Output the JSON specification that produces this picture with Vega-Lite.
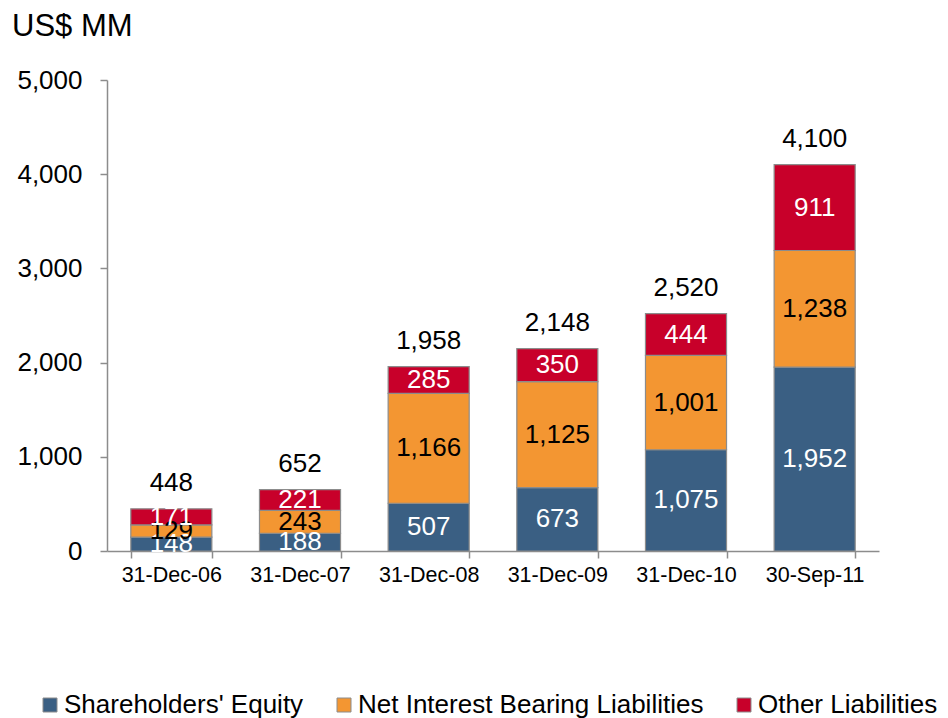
{
  "$schema": "https://vega.github.io/schema/vega-lite/v6.json",
  "width": 772,
  "height": 471,
  "autosize": "none",
  "padding": {"left": 107, "top": 80, "right": 69, "bottom": 167},
  "background": "white",
  "config": {"font": "Liberation Sans", "view": {"stroke": null}},
  "title": {"text": "US$ MM", "anchor": "start", "frame": "group", "dx": -95, "offset": 24, "fontSize": 31, "fontWeight": "normal", "color": "black", "font": "Liberation Sans"},
  "datasets": {
    "segments": [
      {"date": "31-Dec-06", "series": "Shareholders' Equity", "order": 1, "value": 148},
      {"date": "31-Dec-06", "series": "Net Interest Bearing Liabilities", "order": 2, "value": 129},
      {"date": "31-Dec-06", "series": "Other Liabilities", "order": 3, "value": 171},
      {"date": "31-Dec-07", "series": "Shareholders' Equity", "order": 1, "value": 188},
      {"date": "31-Dec-07", "series": "Net Interest Bearing Liabilities", "order": 2, "value": 243},
      {"date": "31-Dec-07", "series": "Other Liabilities", "order": 3, "value": 221},
      {"date": "31-Dec-08", "series": "Shareholders' Equity", "order": 1, "value": 507},
      {"date": "31-Dec-08", "series": "Net Interest Bearing Liabilities", "order": 2, "value": 1166},
      {"date": "31-Dec-08", "series": "Other Liabilities", "order": 3, "value": 285},
      {"date": "31-Dec-09", "series": "Shareholders' Equity", "order": 1, "value": 673},
      {"date": "31-Dec-09", "series": "Net Interest Bearing Liabilities", "order": 2, "value": 1125},
      {"date": "31-Dec-09", "series": "Other Liabilities", "order": 3, "value": 350},
      {"date": "31-Dec-10", "series": "Shareholders' Equity", "order": 1, "value": 1075},
      {"date": "31-Dec-10", "series": "Net Interest Bearing Liabilities", "order": 2, "value": 1001},
      {"date": "31-Dec-10", "series": "Other Liabilities", "order": 3, "value": 444},
      {"date": "30-Sep-11", "series": "Shareholders' Equity", "order": 1, "value": 1952},
      {"date": "30-Sep-11", "series": "Net Interest Bearing Liabilities", "order": 2, "value": 1238},
      {"date": "30-Sep-11", "series": "Other Liabilities", "order": 3, "value": 911}
    ],
    "totals": [
      {"date": "31-Dec-06", "total": 448},
      {"date": "31-Dec-07", "total": 652},
      {"date": "31-Dec-08", "total": 1958},
      {"date": "31-Dec-09", "total": 2148},
      {"date": "31-Dec-10", "total": 2520},
      {"date": "30-Sep-11", "total": 4100}
    ]
  },
  "layer": [
    {
      "data": {"name": "segments"},
      "mark": {"type": "bar", "stroke": "#8c8c8c", "strokeWidth": 1.2},
      "encoding": {
        "x": {"field": "date", "type": "nominal", "sort": null,
              "scale": {"paddingInner": 0.37, "paddingOuter": 0.185},
              "axis": {"title": null, "labelAngle": 0, "labelFontSize": 21.5, "labelColor": "black", "labelPadding": 6,
                       "domainColor": "#8c8c8c", "tickColor": "#8c8c8c", "tickSize": 7, "tickBand": "extent", "domainWidth": 1.5, "tickWidth": 1.5}},
        "y": {"field": "value", "type": "quantitative", "stack": "zero",
              "scale": {"domain": [0, 5000]},
              "axis": {"title": null, "values": [0, 1000, 2000, 3000, 4000, 5000], "format": ",d", "grid": false,
                       "labelFontSize": 26, "labelColor": "black", "labelPadding": 18,
                       "domainColor": "#8c8c8c", "tickColor": "#8c8c8c", "tickSize": 7, "domainWidth": 1.5, "tickWidth": 1.5}},
        "color": {"field": "series", "type": "nominal",
                  "scale": {"domain": ["Shareholders' Equity", "Net Interest Bearing Liabilities", "Other Liabilities"],
                            "range": ["#3A5F83", "#F39632", "#C8002A"]},
                  "legend": {"title": null, "orient": "none", "legendX": -70, "legendY": 612, "direction": "horizontal",
                             "symbolType": "square", "symbolSize": 196, "symbolStrokeColor": "#8c8c8c", "symbolStrokeWidth": 1,
                             "labelFontSize": 26, "labelColor": "black", "labelOffset": 1, "columnPadding": 27, "labelLimit": 500}},
        "order": {"field": "order", "type": "quantitative"}
      }
    },
    {
      "data": {"name": "segments"},
      "transform": [
        {"stack": "value", "groupby": ["date"], "sort": [{"field": "order", "order": "ascending"}], "as": ["v0", "v1"]},
        {"calculate": "(datum.v0 + datum.v1) / 2", "as": "mid"}
      ],
      "mark": {"type": "text", "fontSize": 26, "baseline": "middle", "align": "center"},
      "encoding": {
        "x": {"field": "date", "type": "nominal", "sort": null},
        "y": {"field": "mid", "type": "quantitative"},
        "text": {"field": "value", "type": "quantitative", "format": ",d"},
        "color": {"condition": {"test": "datum.order == 2", "value": "black"}, "value": "white"}
      }
    },
    {
      "data": {"name": "totals"},
      "mark": {"type": "text", "fontSize": 26, "baseline": "alphabetic", "align": "center", "dy": -18, "color": "black"},
      "encoding": {
        "x": {"field": "date", "type": "nominal", "sort": null},
        "y": {"field": "total", "type": "quantitative"},
        "text": {"field": "total", "type": "quantitative", "format": ",d"}
      }
    }
  ]
}
